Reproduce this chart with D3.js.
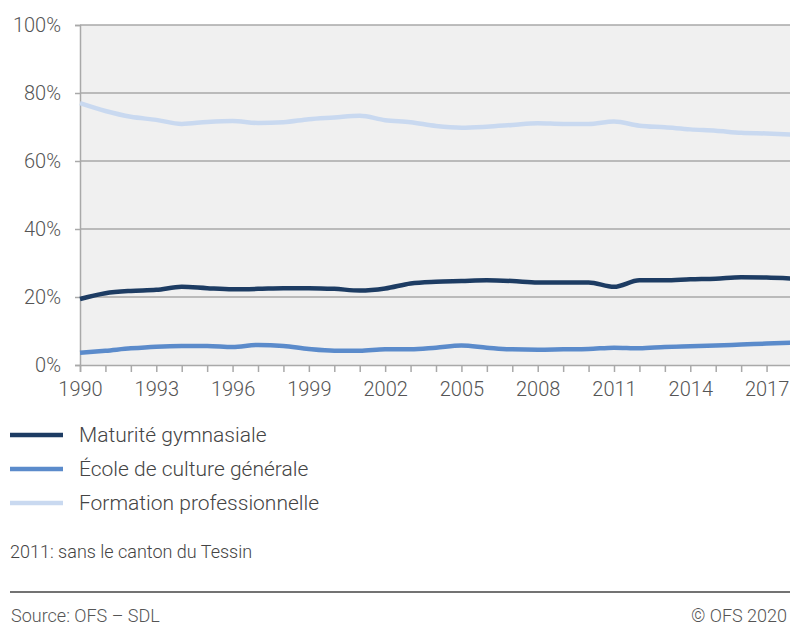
<!DOCTYPE html>
<html>
<head>
<meta charset="utf-8">
<script src="https://cdn.jsdelivr.net/npm/d3@7"></script>
<style>
  body { margin: 0; background: #fff; }
  svg { display: block; font-family: Roboto, "Noto Sans", sans-serif; }
</style>
</head>
<body>
<svg id="chart" width="790" height="625"></svg>
<script>
const years = d3.range(1990, 2019);
const maturite = [19.4, 21.1, 21.8, 22.1, 23.0, 22.6, 22.3, 22.4, 22.6, 22.6, 22.4, 21.9, 22.5, 24.0, 24.5, 24.7, 24.9, 24.7, 24.3, 24.3, 24.3, 23.0, 24.9, 24.9, 25.2, 25.4, 25.8, 25.7, 25.4];
const ecole = [3.6, 4.2, 4.9, 5.4, 5.6, 5.6, 5.3, 5.9, 5.6, 4.7, 4.2, 4.2, 4.6, 4.6, 5.1, 5.7, 5.1, 4.6, 4.5, 4.6, 4.7, 5.1, 4.9, 5.3, 5.5, 5.7, 6.0, 6.3, 6.6];
const formation = [77.0, 74.7, 73.0, 72.1, 70.9, 71.5, 71.8, 71.2, 71.4, 72.3, 72.8, 73.3, 72.0, 71.4, 70.3, 69.8, 70.1, 70.6, 71.1, 70.9, 70.9, 71.6, 70.4, 69.9, 69.3, 68.9, 68.3, 68.1, 67.8];
const yTicks = [0, 20, 40, 60, 80, 100];
const xLabelYears = d3.range(1990, 2018, 3);

const series = [
  { name: "Maturité gymnasiale", values: maturite, color: "#1d3c63" },
  { name: "École de culture générale", values: ecole, color: "#5b8bcb" },
  { name: "Formation professionnelle", values: formation, color: "#c9d9f0" }
];

const font = "Roboto, 'Noto Sans', sans-serif";
const svg = d3.select("#chart");
const margin = { left: 80, right: 792, top: 25, bottom: 365 };

const x = d3.scaleLinear().domain([1990, 2018]).range([margin.left, margin.right]);
const y = d3.scaleLinear().domain([0, 100]).range([margin.bottom, margin.top]);

// plot background
svg.append("rect")
  .attr("x", margin.left).attr("y", margin.top)
  .attr("width", margin.right - margin.left).attr("height", margin.bottom - margin.top)
  .attr("fill", "#f0f0f0");

// gridlines
svg.append("g")
  .selectAll("line")
  .data(yTicks.filter(d => d > 0))
  .join("line")
  .attr("x1", margin.left).attr("x2", margin.right)
  .attr("y1", d => y(d)).attr("y2", d => y(d))
  .attr("stroke", "#a9a9a9").attr("stroke-width", 1.5);

// y axis
const yAxis = svg.append("g")
  .attr("transform", `translate(${margin.left},0)`)
  .call(d3.axisLeft(y).tickValues(yTicks).tickSize(5).tickPadding(14).tickFormat(d => d + "%"))
  .attr("font-family", font);
yAxis.select(".domain").attr("stroke", "#a9a9a9").attr("stroke-width", 1.5);
yAxis.selectAll(".tick line").attr("stroke", "#a9a9a9").attr("stroke-width", 1.5);
yAxis.selectAll("text").attr("font-size", 20).attr("fill", "#555").attr("font-weight", 300);

// x axis
const xAxis = svg.append("g")
  .attr("transform", `translate(0,${margin.bottom})`)
  .call(d3.axisBottom(x).tickValues(years).tickSize(7).tickPadding(10)
    .tickFormat(d => xLabelYears.includes(d) ? d : ""))
  .attr("font-family", font);
xAxis.select(".domain").attr("stroke", "#a9a9a9").attr("stroke-width", 1.5);
xAxis.selectAll(".tick line").attr("stroke", "#a9a9a9").attr("stroke-width", 1.5);
xAxis.selectAll("text").attr("font-size", 20).attr("fill", "#555").attr("font-weight", 300);

// lines
const line = d3.line()
  .x((d, i) => x(years[i]))
  .y(d => y(d))
  .curve(d3.curveMonotoneX);

svg.append("g")
  .selectAll("path")
  .data(series.slice().reverse())
  .join("path")
  .attr("d", d => line(d.values))
  .attr("fill", "none")
  .attr("stroke", d => d.color)
  .attr("stroke-width", 4.5)
  .attr("stroke-linejoin", "round");

// legend
const legend = svg.append("g");
series.forEach((s, i) => {
  const ly = 435 + i * 34;
  legend.append("line")
    .attr("x1", 10).attr("x2", 63)
    .attr("y1", ly).attr("y2", ly)
    .attr("stroke", s.color).attr("stroke-width", 4.5);
  legend.append("text")
    .attr("x", 79).attr("y", ly)
    .attr("dy", "0.35em")
    .attr("font-size", 21).attr("font-weight", 300)
    .attr("fill", "#444")
    .text(s.name);
});

svg.append("text")
  .attr("x", 10).attr("y", 558)
  .attr("font-size", 18).attr("font-weight", 300).attr("fill", "#444")
  .text("2011: sans le canton du Tessin");

svg.append("line")
  .attr("x1", 10).attr("x2", 790)
  .attr("y1", 592).attr("y2", 592)
  .attr("stroke", "#444").attr("stroke-width", 1.5);

svg.append("text")
  .attr("x", 11).attr("y", 622)
  .attr("font-size", 18).attr("font-weight", 300).attr("fill", "#555")
  .text("Source: OFS – SDL");

svg.append("text")
  .attr("x", 787).attr("y", 622)
  .attr("text-anchor", "end")
  .attr("font-size", 18).attr("font-weight", 300).attr("fill", "#555")
  .text("© OFS 2020");
</script>
</body>
</html>
